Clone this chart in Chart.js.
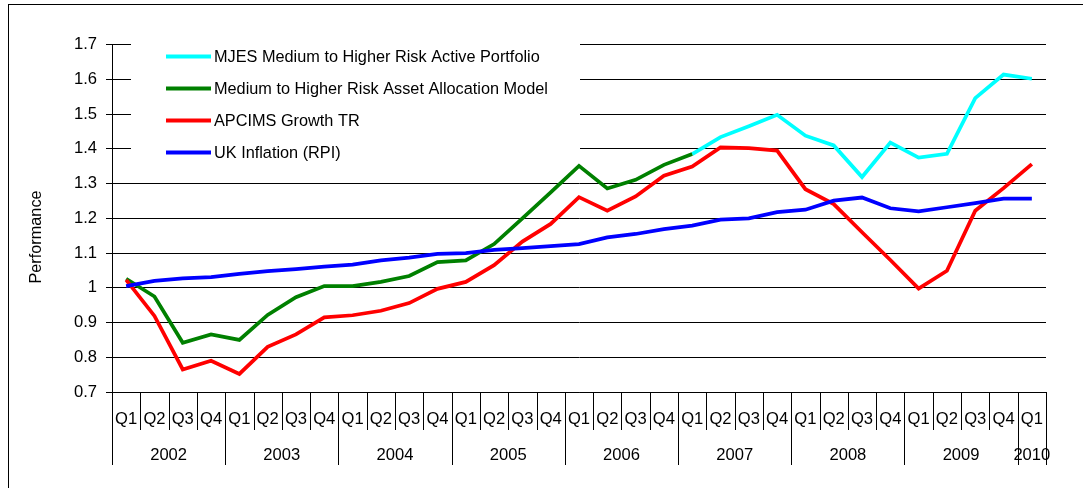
<!DOCTYPE html>
<html>
<head>
<meta charset="utf-8">
<script src="https://cdn.jsdelivr.net/npm/chart.js@4/dist/chart.umd.min.js"></script>
<style>
  html, body { margin: 0; padding: 0; background: #fff; }
  canvas { display: block; }
</style>
</head>
<body>
<canvas id="perfChart" width="1083" height="488"></canvas>
<script>
const quarterLabels = [
  "Q1", "Q2", "Q3", "Q4", "Q1", "Q2", "Q3", "Q4", "Q1", "Q2", "Q3", "Q4",
  "Q1", "Q2", "Q3", "Q4", "Q1", "Q2", "Q3", "Q4", "Q1", "Q2", "Q3", "Q4",
  "Q1", "Q2", "Q3", "Q4", "Q1", "Q2", "Q3", "Q4", "Q1",
];
const yearLabels = ["2002", "2003", "2004", "2005", "2006", "2007", "2008", "2009", "2010"];

const mjes = [
  null, null, null, null, null, null, null, null, null, null,
  null, null, null, null, null, null, null, null, null, null,
  1.385, 1.434, 1.465, 1.498, 1.438, 1.41, 1.319, 1.418, 1.375, 1.386,
  1.546, 1.614, 1.602,
];
const model = [
  1.026, 0.975, 0.842, 0.866, 0.85, 0.922, 0.973, 1.005, 1.005, 1.017,
  1.034, 1.074, 1.079, 1.126, 1.2, 1.275, 1.351, 1.286, 1.311, 1.354,
  1.385, null, null, null, null, null, null, null, null, null,
  null, null, null,
];
const apcims = [
  1.023, 0.919, 0.765, 0.79, 0.752, 0.83, 0.866, 0.915, 0.921, 0.934,
  0.956, 0.997, 1.017, 1.065, 1.133, 1.184, 1.261, 1.222, 1.263, 1.323,
  1.349, 1.404, 1.402, 1.395, 1.284, 1.241, 1.16, 1.08, 0.998, 1.049,
  1.222, 1.287, 1.356,
];
const rpi = [
  1.005, 1.02, 1.027, 1.031, 1.04, 1.048, 1.054, 1.061, 1.067, 1.079,
  1.087, 1.098, 1.1, 1.109, 1.114, 1.12, 1.126, 1.145, 1.155, 1.169,
  1.179, 1.196, 1.2, 1.218, 1.225, 1.251, 1.26, 1.229, 1.22, 1.232,
  1.244, 1.257, 1.257,
];

const seriesNames = [
  "MJES Medium to Higher Risk Active Portfolio",
  "Medium to Higher Risk Asset Allocation Model",
  "APCIMS Growth TR",
  "UK Inflation (RPI)",
];
const seriesColors = ["#00ffff", "#008000", "#ff0000", "#0000ff"];
const yTicks = [0.7, 0.8, 0.9, 1.0, 1.1, 1.2, 1.3, 1.4, 1.5, 1.6, 1.7];

const FAMILY = "'Liberation Sans', Arial, sans-serif";
const LEGEND_FONT = "16.3px " + FAMILY;
const AXIS_FONT = "16.6px " + FAMILY;

Chart.defaults.font.family = FAMILY;
Chart.defaults.font.size = 16;
Chart.defaults.color = "#000";

// frame, legend box, y title and the two-level category axis
const decorations = {
  id: "decorations",
  beforeDatasetsDraw(chart) {
    const ctx = chart.ctx;
    ctx.save();
    // legend sits inside the plot and hides the grid behind it
    ctx.fillStyle = "#fff";
    ctx.fillRect(131, 36, 449, 134);
    ctx.font = LEGEND_FONT;
    ctx.textBaseline = "middle";
    ctx.textAlign = "left";
    seriesNames.forEach((name, i) => {
      const y = 56.5 + i * 32;
      ctx.strokeStyle = seriesColors[i];
      ctx.lineWidth = 4;
      ctx.beginPath();
      ctx.moveTo(166, y);
      ctx.lineTo(211, y);
      ctx.stroke();
      ctx.fillStyle = "#000";
      ctx.fillText(name, 214, y + 1);
    });
    ctx.restore();
  },
  afterDraw(chart) {
    const ctx = chart.ctx;
    const x = chart.scales.x;
    const bottom = chart.chartArea.bottom;
    const half = (x.getPixelForValue(1) - x.getPixelForValue(0)) / 2;
    ctx.save();

    // outer frame
    ctx.strokeStyle = "#000";
    ctx.lineWidth = 1;
    ctx.strokeRect(8.5, 4.5, 1100, 500);

    // y title
    ctx.font = LEGEND_FONT;
    ctx.fillStyle = "#000";
    ctx.translate(37, 237);
    ctx.rotate(-Math.PI / 2);
    ctx.textAlign = "center";
    ctx.textBaseline = "middle";
    ctx.fillText("Performance", 0, 0);
    ctx.setTransform(1, 0, 0, 1, 0, 0);

    // quarter labels and separators
    ctx.font = AXIS_FONT;
    ctx.strokeStyle = "#000";
    ctx.lineWidth = 1;
    quarterLabels.forEach((q, i) => {
      const cx = x.getPixelForValue(i);
      const lx = Math.round(cx - half) + 0.5;
      const long = i % 4 === 0;
      ctx.beginPath();
      ctx.moveTo(lx, bottom);
      ctx.lineTo(lx, long ? 465 : 430);
      ctx.stroke();
      ctx.fillText(q, cx, 419);
    });
    const endX = Math.round(x.getPixelForValue(quarterLabels.length - 1) + half) + 0.5;
    ctx.beginPath();
    ctx.moveTo(endX, bottom);
    ctx.lineTo(endX, 465);
    ctx.stroke();

    // year labels centred over their quarters
    yearLabels.forEach((yr, k) => {
      const first = k * 4;
      const last = Math.min(first + 3, quarterLabels.length - 1);
      const cx = (x.getPixelForValue(first) + x.getPixelForValue(last)) / 2;
      ctx.fillText(yr, cx, 455);
    });
    ctx.restore();
  },
};

function lineSet(label, data, color, order) {
  return {
    label,
    data,
    borderColor: color,
    backgroundColor: color,
    borderWidth: 3.75,
    pointRadius: 0,
    pointHoverRadius: 0,
    tension: 0,
    fill: false,
    spanGaps: false,
    order,
  };
}

new Chart(document.getElementById("perfChart"), {
  type: "line",
  data: {
    labels: quarterLabels.map((q, i) => q + " " + yearLabels[Math.floor(i / 4)]),
    datasets: [
      lineSet(seriesNames[0], mjes, seriesColors[0], 3),
      lineSet(seriesNames[1], model, seriesColors[1], 2),
      lineSet(seriesNames[2], apcims, seriesColors[2], 1),
      lineSet(seriesNames[3], rpi, seriesColors[3], 0),
    ],
  },
  options: {
    responsive: false,
    animation: false,
    devicePixelRatio: 1,
    layout: { padding: { left: 0, top: 44.7, right: 37, bottom: 0 } },
    plugins: {
      legend: { display: false },
      tooltip: { enabled: false },
    },
    scales: {
      x: {
        offset: true,
        ticks: { display: false },
        grid: { display: false },
        border: { display: true, color: "#000", width: 1 },
        afterFit: (scale) => { scale.height = 96; },
      },
      y: {
        min: yTicks[0],
        max: yTicks[yTicks.length - 1],
        afterBuildTicks: (scale) => { scale.ticks = yTicks.map((v) => ({ value: v })); },
        ticks: {
          padding: 9,
          color: "#000",
          font: { size: 16.6 },
          callback: (v) => String(Number(v.toFixed(1))),
        },
        grid: { color: "#000", lineWidth: 1, tickLength: 6 },
        border: { color: "#000", width: 1 },
        afterFit: (scale) => { scale.width = 112; },
      },
    },
  },
  plugins: [decorations],
});
</script>
</body>
</html>
